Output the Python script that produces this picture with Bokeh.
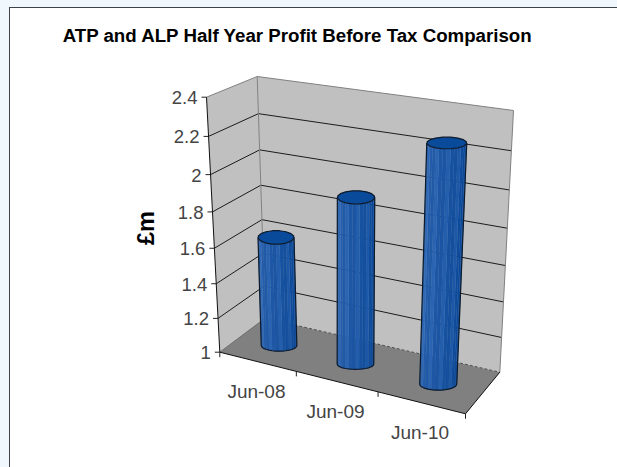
import math
from bokeh.plotting import figure
from bokeh.embed import file_html
from bokeh.resources import INLINE
from bokeh.models import Range1d
from bokeh.core.properties import value

categories = ["Jun-08", "Jun-09", "Jun-10"]
profit = [1.63, 1.93, 2.28]
y_ticks = [1, 1.2, 1.4, 1.6, 1.8, 2, 2.2, 2.4]
y_tick_labels = ["1", "1.2", "1.4", "1.6", "1.8", "2", "2.2", "2.4"]
title = "ATP and ALP Half Year Profit Before Tax Comparison"
y_title = "£m"

# projected box corners of the 3D plot (screen geometry)
FBL, FBR, BBL, BBR = (219.3, 351.7), (465, 413.3), (264.7, 317.7), (499.3, 371.7)
FTL, FTR, BTL, BTR = (206, 96.7), (479, 137), (256.7, 76), (513, 110)
VMIN, VMAX = y_ticks[0], y_ticks[-1]
KX, KV = 1.105, 1.09


def lerp(a, b, t):
    return (a[0] + (b[0] - a[0]) * t, a[1] + (b[1] - a[1]) * t)


def warp(t, k):
    return t / (t + k * (1 - t)) if t > 0 else 0.0


def project(s, z, v):
    """s: 0..1 along categories, z: 0 front..1 back, v: axis value."""
    sw = warp(s, KX)
    tv = warp((v - VMIN) / (VMAX - VMIN), KV)
    bottom = lerp(lerp(FBL, FBR, sw), lerp(BBL, BBR, sw), z)
    top = lerp(lerp(FTL, FTR, sw), lerp(BTL, BTR, sw), z)
    return lerp(bottom, top, tv)


def xs(points):
    return [q[0] for q in points]


def ys(points):
    return [q[1] for q in points]


p = figure(width=617, height=467, output_backend="svg", toolbar_location=None,
           x_range=Range1d(0, 617), y_range=Range1d(467, 0), min_border=0,
           background_fill_color=None, border_fill_color=None, outline_line_color=None)
p.axis.visible = False
p.grid.visible = False

# walls and floor
p.patch(xs([FBL, BBL, BTL, FTL]), ys([FBL, BBL, BTL, FTL]), fill_color="#c0c0c0", line_color=None)
p.patch(xs([BBL, BBR, BTR, BTL]), ys([BBL, BBR, BTR, BTL]), fill_color="#c0c0c0", line_color=None)
p.patch(xs([FBL, FBR, BBR, BBL]), ys([FBL, FBR, BBR, BBL]), fill_color="#808080", line_color=None)

# gridlines
GRID = "#1c1c1c"
for v in y_ticks[1:-1]:
    pts = [project(0, 0, v), project(0, 1, v), project(1, 1, v)]
    p.line(xs(pts), ys(pts), line_color=GRID, line_width=1)

# wall borders
EDGE = "#808080"
p.line(xs([FTL, BTL, BTR, BBR]), ys([FTL, BTL, BTR, BBR]), line_color=EDGE, line_width=1)
p.line(xs([BTL, BBL]), ys([BTL, BBL]), line_color=EDGE, line_width=1)
p.line(xs([FBL, BBL]), ys([FBL, BBL]), line_color="#6a6a6a", line_width=1)
p.line(xs([BBL, BBR]), ys([BBL, BBR]), line_color="#505050", line_width=1, line_dash="3 2")

# axis lines
AX = "#111111"
p.line(xs([FTL, FBL, FBR, BBR]), ys([FTL, FBL, FBR, BBR]), line_color=AX, line_width=1)

# value axis ticks and labels
TICK_LEN = 5
for v, lab in zip(y_ticks, y_tick_labels):
    x, y = project(0, 0, v)
    p.line([x - TICK_LEN, x], [y, y], line_color="#222222", line_width=1)
    p.text([x - 9], [y + 0.5], text=[lab], text_align="right", text_baseline="middle",
           text_font=value("Liberation Sans"), text_font_size="18.5px", text_color="#444444")

# category ticks and labels
n = len(categories)
for i in range(n + 1):
    x, y = project(i / n, 0, VMIN)
    p.line([x, x], [y, y + 5], line_color="#222222", line_width=1)
for i, cat in enumerate(categories):
    x, y = project((i + 0.5) / n, 0, VMIN)
    p.text([x - 1], [y + 30], text=[cat], text_align="center", text_baseline="middle",
           text_font=value("Liberation Sans"), text_font_size="19px", text_color="#444444")

# cylinders
Z_COL = 0.46
RX_BASE, RX_TOP = [17.8, 18.3, 18.5], [18.0, 18.7, 20.0]
RY_BASE, RY_TOP = [5.7, 5.2, 6.0], [6.8, 6.6, 5.9]
DX = [1.5, 0.5, 0.5]
SEG = 16
LEFT_C, RIGHT_C = (44, 100, 176), (8, 70, 150)
OUT = "#0c1a2c"
for i, val in enumerate(profit):
    s = (i + 0.5) / n
    cb = project(s, Z_COL, VMIN)
    ct = project(s, Z_COL, val)
    cb = (cb[0] + DX[i], cb[1])
    ct = (ct[0] + DX[i], ct[1])
    th = [math.pi * k / SEG for k in range(SEG + 1)]
    # angle runs right -> front -> left (screen y is downward)
    bot = [(cb[0] + RX_BASE[i] * math.cos(a), cb[1] + RY_BASE[i] * math.sin(a)) for a in th]
    top = [(ct[0] + RX_TOP[i] * math.cos(a), ct[1] + RY_TOP[i] * math.sin(a)) for a in th]
    for k in range(SEG):
        w = (k + 0.5) / SEG
        c = [RIGHT_C[j] * (1 - w) + LEFT_C[j] * w for j in range(3)]
        if k % 3 == 1:
            c = [min(255, q + 11) for q in c]
        col = "#%02x%02x%02x" % tuple(int(q) for q in c)
        quad = [top[k], top[k + 1], bot[k + 1], bot[k]]
        p.patch(xs(quad), ys(quad), fill_color=col, line_color=col, line_width=0.3)
    # side and bottom outline
    outline = [top[0]] + bot + [top[-1]]
    p.line(xs(outline), ys(outline), line_color=OUT, line_width=1.2)
    # top cap, a faceted disc
    cap = [(ct[0] + RX_TOP[i] * math.cos(2 * math.pi * (k + 0.5) / SEG),
            ct[1] + RY_TOP[i] * math.sin(2 * math.pi * (k + 0.5) / SEG)) for k in range(SEG)]
    p.patch(xs(cap), ys(cap), fill_color="#0a4a9a", line_color=OUT, line_width=1.2)

# titles
p.text([297.5], [35], text=[title], text_align="center", text_baseline="middle",
       text_font=value("Liberation Sans"), text_font_style="bold", text_font_size="18.7px",
       text_color="#000000")
p.text([145.5], [227.5], text=[y_title], text_align="center", text_baseline="middle", angle=[math.pi / 2],
       text_font=value("Liberation Sans"), text_font_style="bold", text_font_size="23.5px",
       text_color="#000000")

css = """<style>
html, body { overflow: hidden; background:
  linear-gradient(#3f4347,#3f4347) 9px 7px / 100% 1.3px no-repeat,
  linear-gradient(#3f4347,#3f4347) 9px 7px / 1.3px 100% no-repeat,
  linear-gradient(#f0f7fd,#f0f7fd) 0 0 / 100% 7px no-repeat,
  linear-gradient(#f0f7fd,#f0f7fd) 0 0 / 9px 100% no-repeat,
  #ffffff; }
</style></head>"""
html = file_html(p, INLINE).replace("</head>", css, 1)
open("out.html", "w").write(html)
